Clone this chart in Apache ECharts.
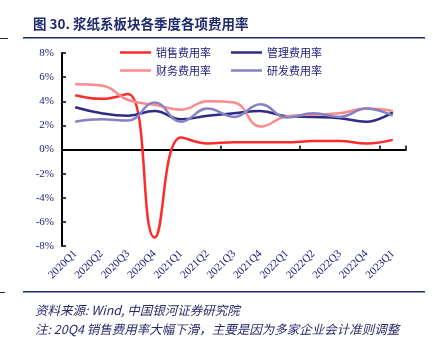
<!DOCTYPE html>
<html><head><meta charset="utf-8">
<script src="https://cdn.jsdelivr.net/npm/echarts@6/dist/echarts.min.js"></script>
<style>html,body{margin:0;padding:0;background:#fff}#c{width:433px;height:337px}</style>
</head><body><div id="c"></div>
<script>
const categories = ['2020Q1','2020Q2','2020Q3','2020Q4','2021Q1','2021Q2','2021Q3','2021Q4','2022Q1','2022Q2','2022Q3','2022Q4','2023Q1'];
const salesRate = [4.5, 4.2, 4.6, -7.3, 1.0, 0.5, 0.6, 0.6, 0.6, 0.7, 0.7, 0.5, 0.8];
const adminRate = [3.5, 3.0, 2.8, 3.2, 2.5, 2.8, 3.0, 3.2, 2.75, 2.7, 2.6, 2.3, 3.1];
const financeRate = [5.4, 5.3, 4.1, 3.7, 3.3, 4.0, 3.9, 1.9, 2.75, 2.9, 3.0, 3.4, 3.2];
const rdRate = [2.3, 2.5, 2.4, 3.9, 2.3, 3.4, 2.7, 3.75, 2.65, 3.0, 2.7, 3.4, 2.8];
const yTicks = [-8, -6, -4, -2, 0, 2, 4, 6, 8];
const names = ['销售费用率','管理费用率','财务费用率','研发费用率'];
const colors = ['#FF2A2A','#2E2A85','#FF8A8A','#8582C4'];
const navy = '#1A1A7A';
const chart = echarts.init(document.getElementById('c'));
const serif = 'Liberation Serif';
const mk = (n, d, i) => ({name: n, type: 'line', data: d, smooth: 0.45, showSymbol: false, symbol: 'none',
  lineStyle: {width: 2.5, color: colors[i]}, itemStyle: {color: colors[i]}, xAxisIndex: 0, z: 3});
const legendBase = {left: 115, itemWidth: 31, itemHeight: 10, itemGap: 20,
    icon: 'path://M0,4h31v2.5h-31z',
    textStyle: {fontSize: 11, color: navy, fontFamily: 'Noto Sans CJK SC'}};
chart.setOption({
  animation: false,
  grid: {left: 62, right: 27, top: 53, bottom: 91},
  legend: [
    Object.assign({}, legendBase, {top: 42, data: [names[0], names[1]]}),
    Object.assign({}, legendBase, {top: 60, data: [names[2], names[3]]})
  ],
  xAxis: [
    {type: 'category', data: categories, position: 'bottom', boundaryGap: true,
     axisLine: {show: false, onZero: false}, axisTick: {show: false},
     axisLabel: {rotate: 45, fontSize: 11, color: navy, fontFamily: serif, margin: 6, interval: 0}},
    {type: 'category', data: categories, position: 'bottom', boundaryGap: true,
     axisLine: {show: true, onZero: true, lineStyle: {color: '#000', width: 2}},
     axisTick: {show: true, inside: true, length: 4, lineStyle: {color: '#000', width: 1.5}},
     axisLabel: {show: false}}
  ],
  yAxis: {type: 'value', min: -8, max: 8, interval: 2,
    axisLine: {show: true, lineStyle: {color: '#000', width: 2}},
    axisTick: {show: true, inside: true, length: 4, lineStyle: {color: '#000', width: 1.5}},
    splitLine: {show: false},
    axisLabel: {formatter: v => v + '%', fontSize: 11, color: navy, fontFamily: serif, margin: 8}},
  series: [mk(names[0], salesRate, 0), mk(names[1], adminRate, 1), mk(names[2], financeRate, 2), mk(names[3], rdRate, 3)],
  graphic: [
    {type: 'text', left: 33, top: 17, style: {text: '图 30. 浆纸系板块各季度各项费用率', fontSize: 13.5, fontWeight: 'bold', fill: '#1F2A6E', fontFamily: 'Noto Sans CJK SC'}},
    {type: 'rect', shape: {x: 23, y: 37, width: 402, height: 1.5}, style: {fill: '#1F2A6E'}},
    {type: 'rect', shape: {x: 0, y: 38, width: 8, height: 1}, style: {fill: '#1F2A6E'}},
    {type: 'rect', shape: {x: 23, y: 291, width: 402, height: 1.5}, style: {fill: '#1F2A6E'}},
    {type: 'rect', shape: {x: 0, y: 292, width: 5, height: 1}, style: {fill: '#1F2A6E'}},
    {type: 'text', left: 35, top: 304, style: {text: '资料来源: Wind, 中国银河证券研究院', fontSize: 12.5, fontStyle: 'italic', fill: '#2A2A6A', fontFamily: 'Noto Sans CJK SC'}},
    {type: 'text', left: 35, top: 323, style: {text: '注: 20Q4 销售费用率大幅下滑，主要是因为多家企业会计准则调整', fontSize: 12.5, fontStyle: 'italic', fill: '#2A2A6A', fontFamily: 'Noto Sans CJK SC'}}
  ]
});
</script></body></html>
